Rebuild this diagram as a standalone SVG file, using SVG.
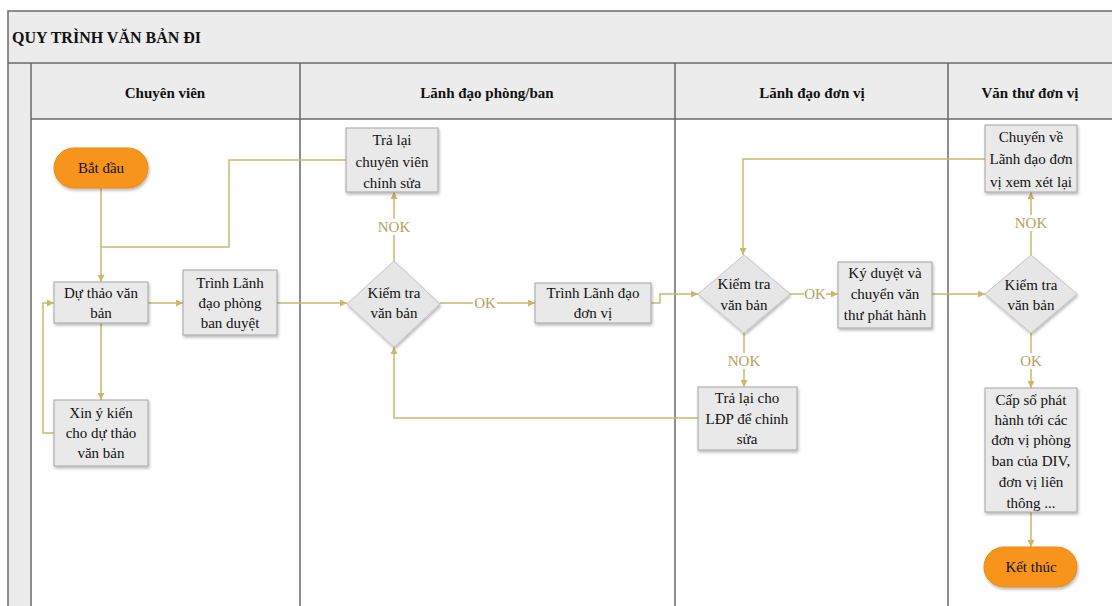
<svg xmlns="http://www.w3.org/2000/svg" width="1112" height="606" viewBox="0 0 1112 606">
  <style>
    text { font-family: "Liberation Serif", "Times New Roman", serif; font-size: 15px; }
    .title { font-weight: bold; font-size: 16px; fill: #111; }
    .lane { font-weight: bold; fill: #111; text-anchor: middle; }
    .t { fill: #111; text-anchor: middle; }
    .box { fill: #e9e9e9; stroke: #a3a3a3; stroke-width: 1; }
    .dia { fill: #e6e6e6; stroke: #c4c4c4; stroke-width: 1; }
    .pill { fill: #f7941d; stroke: #e8891a; stroke-width: 1; }
    .frame { stroke: #6a6a6a; stroke-width: 1.5; fill: none; }
    .conn { fill: none; stroke: #cdb66c; stroke-width: 1.5; }
    .lblbg { fill: #fff; }
    .lbl { fill: #b3a15a; text-anchor: middle; }
  </style>
  <defs>
    <marker id="arr" viewBox="0 0 10 10" refX="10" refY="5" markerWidth="7" markerHeight="7" orient="auto" markerUnits="userSpaceOnUse">
      <path d="M0,0 L10,5 L0,10 z" fill="#cdb66c"/>
    </marker>
    <filter id="sh" x="-20%" y="-20%" width="140%" height="140%">
      <feDropShadow dx="1" dy="2" stdDeviation="1.5" flood-color="#000" flood-opacity="0.28"/>
    </filter>
  </defs>

  <!-- pool frame -->
  <g id="pool">
    <rect x="0" y="0" width="1112" height="606" fill="#fff"/>
    <rect x="8" y="11" width="1110" height="108" fill="#ececec"/>
    <rect x="8" y="63" width="23" height="550" fill="#ececec"/>
    <path class="frame" d="M1112,11 H8 V606 M8,63 H1112 M31,119 H1112 M31,63 V606 M300,63 V606 M675,63 V606 M948,63 V606"/>
    <text class="title" x="12" y="43">QUY TRÌNH VĂN BẢN ĐI</text>
    <text class="lane" x="165" y="98">Chuyên viên</text>
    <text class="lane" x="487" y="98">Lãnh đạo phòng/ban</text>
    <text class="lane" x="812" y="98">Lãnh đạo đơn vị</text>
    <text class="lane" x="1030" y="98">Văn thư đơn vị</text>
  </g>

  <!-- connectors -->
  <g id="connectors">
    <path class="conn" d="M101,188 V282" marker-end="url(#arr)"/>
    <path class="conn" d="M346,160 H229 V247 H101"/>
    <path class="conn" d="M148,303 H183" marker-end="url(#arr)"/>
    <path class="conn" d="M101,323 V400" marker-end="url(#arr)"/>
    <path class="conn" d="M54,433 H43 V303 H54" marker-end="url(#arr)"/>
    <path class="conn" d="M277,303 H347" marker-end="url(#arr)"/>
    <path class="conn" d="M440,303 H535" marker-end="url(#arr)"/>
    <path class="conn" d="M394,261 V192" marker-end="url(#arr)"/>
    <path class="conn" d="M651,303 H660 V294 H698" marker-end="url(#arr)"/>
    <path class="conn" d="M790,294 H838" marker-end="url(#arr)"/>
    <path class="conn" d="M744,333 V387" marker-end="url(#arr)"/>
    <path class="conn" d="M698,418 H394 V347" marker-end="url(#arr)"/>
    <path class="conn" d="M932,294 H985" marker-end="url(#arr)"/>
    <path class="conn" d="M1031,255 V192" marker-end="url(#arr)"/>
    <path class="conn" d="M985,159 H743 V255" marker-end="url(#arr)"/>
    <path class="conn" d="M1031,333 V388" marker-end="url(#arr)"/>
    <path class="conn" d="M1031,512 V547" marker-end="url(#arr)"/>
    <!-- label plates keep the lines out of the text -->
    <rect class="lblbg" x="473" y="295" width="24" height="16"/>
    <rect class="lblbg" x="377" y="219" width="34" height="16"/>
    <rect class="lblbg" x="804" y="286" width="22" height="16"/>
    <rect class="lblbg" x="727" y="353" width="34" height="16"/>
    <rect class="lblbg" x="1014" y="215" width="34" height="16"/>
    <rect class="lblbg" x="1020" y="353" width="22" height="16"/>
    <text class="lbl" x="485" y="308">OK</text>
    <text class="lbl" x="394" y="232">NOK</text>
    <text class="lbl" x="815" y="299">OK</text>
    <text class="lbl" x="744" y="366">NOK</text>
    <text class="lbl" x="1031" y="228">NOK</text>
    <text class="lbl" x="1031" y="366">OK</text>
  </g>

  <g id="start">
    <rect class="pill" x="54" y="148" width="94" height="40" rx="20" filter="url(#sh)"/>
    <text class="t" x="101" y="173">Bắt đầu</text>
  </g>

  <g id="draft">
    <rect class="box" x="54" y="282" width="94" height="41" filter="url(#sh)"/>
    <text class="t" x="101" y="298">Dự thảo văn</text>
    <text class="t" x="101" y="318">bản</text>
  </g>

  <g id="submit-dept">
    <rect class="box" x="183" y="270" width="94" height="65" filter="url(#sh)"/>
    <text class="t" x="230" y="288">Trình Lãnh</text>
    <text class="t" x="230" y="308">đạo phòng</text>
    <text class="t" x="230" y="328">ban duyệt</text>
  </g>

  <g id="consult">
    <rect class="box" x="54" y="400" width="94" height="66" filter="url(#sh)"/>
    <text class="t" x="101" y="418">Xin ý kiến</text>
    <text class="t" x="101" y="438">cho dự thảo</text>
    <text class="t" x="101" y="458">văn bản</text>
  </g>

  <g id="return-staff">
    <rect class="box" x="346" y="128" width="92" height="64" filter="url(#sh)"/>
    <text class="t" x="392" y="145">Trả lại</text>
    <text class="t" x="392" y="167">chuyên viên</text>
    <text class="t" x="392" y="188">chỉnh sửa</text>
  </g>

  <g id="check-dept">
    <polygon class="dia" points="394,261 440,304 394,347 347,304" filter="url(#sh)"/>
    <text class="t" x="394" y="298">Kiểm tra</text>
    <text class="t" x="394" y="318">văn bản</text>
  </g>

  <g id="submit-unit">
    <rect class="box" x="535" y="283" width="116" height="40" filter="url(#sh)"/>
    <text class="t" x="593" y="298">Trình Lãnh đạo</text>
    <text class="t" x="593" y="318">đơn vị</text>
  </g>

  <g id="check-unit">
    <polygon class="dia" points="744,255 790,294 744,333 698,294" filter="url(#sh)"/>
    <text class="t" x="744" y="289">Kiểm tra</text>
    <text class="t" x="744" y="310">văn bản</text>
  </g>

  <g id="sign">
    <rect class="box" x="838" y="262" width="94" height="66" filter="url(#sh)"/>
    <text class="t" x="885" y="278">Ký duyệt và</text>
    <text class="t" x="885" y="299">chuyển văn</text>
    <text class="t" x="885" y="320">thư phát hành</text>
  </g>

  <g id="return-dept">
    <rect class="box" x="698" y="387" width="99" height="63" filter="url(#sh)"/>
    <text class="t" x="747" y="403">Trả lại cho</text>
    <text class="t" x="747" y="424">LĐP để chỉnh</text>
    <text class="t" x="747" y="444">sửa</text>
  </g>

  <g id="return-unit">
    <rect class="box" x="985" y="125" width="92" height="67" filter="url(#sh)"/>
    <text class="t" x="1031" y="142">Chuyển về</text>
    <text class="t" x="1031" y="164">Lãnh đạo đơn</text>
    <text class="t" x="1031" y="187">vị xem xét lại</text>
  </g>

  <g id="check-clerk">
    <polygon class="dia" points="1031,255 1077,294 1031,333 985,294" filter="url(#sh)"/>
    <text class="t" x="1031" y="290">Kiểm tra</text>
    <text class="t" x="1031" y="310">văn bản</text>
  </g>

  <g id="issue">
    <rect class="box" x="985" y="388" width="92" height="124" filter="url(#sh)"/>
    <text class="t" x="1031" y="405">Cấp số phát</text>
    <text class="t" x="1031" y="425">hành tới các</text>
    <text class="t" x="1031" y="445">đơn vị phòng</text>
    <text class="t" x="1031" y="466">ban của DIV,</text>
    <text class="t" x="1031" y="487">đơn vị liên</text>
    <text class="t" x="1031" y="508">thông ...</text>
  </g>

  <g id="end">
    <rect class="pill" x="984" y="547" width="93" height="40" rx="20" filter="url(#sh)"/>
    <text class="t" x="1031" y="572">Kết thúc</text>
  </g>
</svg>
